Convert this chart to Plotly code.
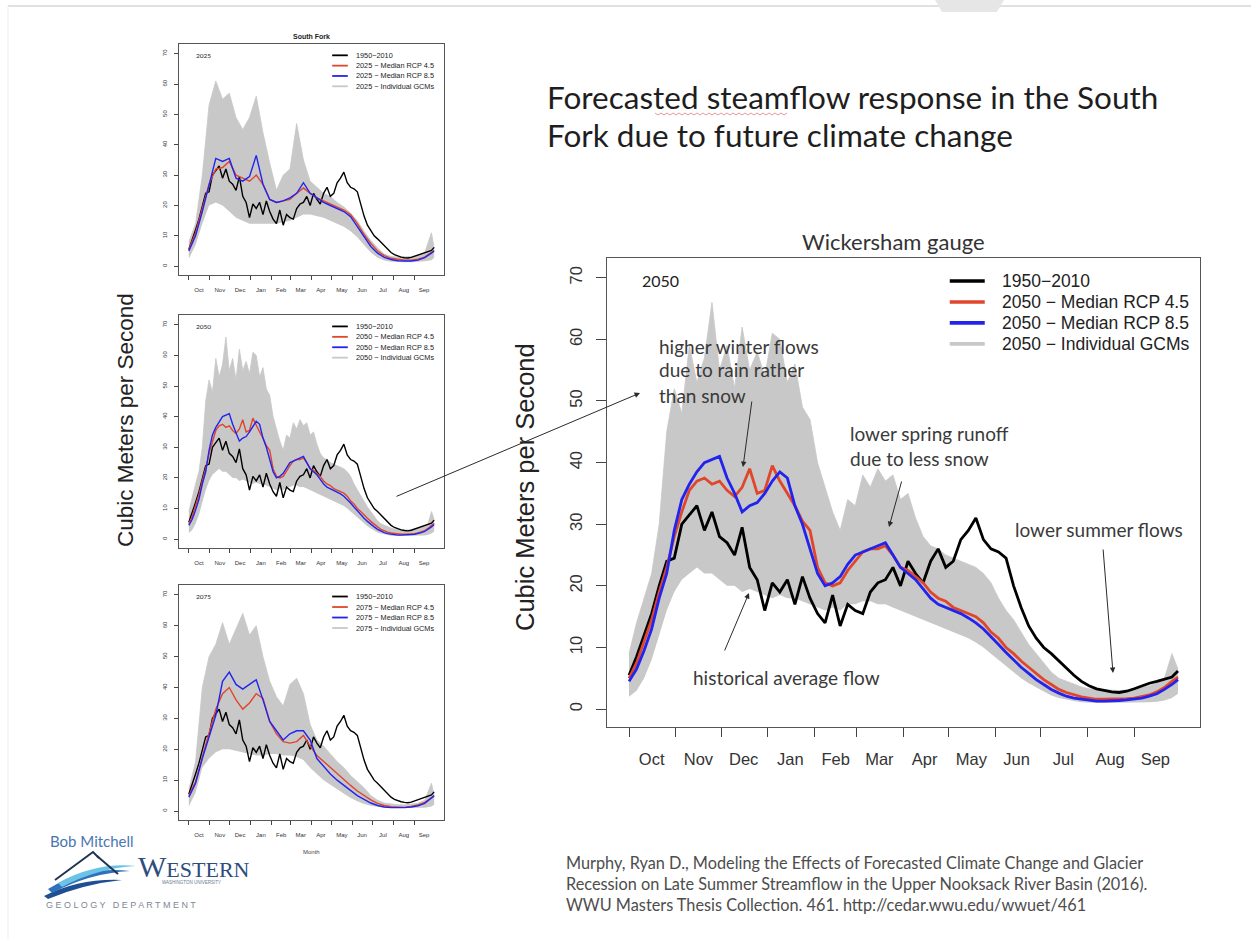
import plotly.graph_objects as go

W, H = 1251, 939

# ---------------------------------------------------------------- axes
months = ["Oct", "Nov", "Dec", "Jan", "Feb", "Mar", "Apr", "May", "Jun", "Jul", "Aug", "Sep"]
month_start = [1, 32, 62, 93, 124, 152, 183, 213, 244, 274, 305, 336]
month_mid = [16, 47, 77, 108, 138, 167, 197, 228, 258, 289, 320, 350]
flow_ticks = [0, 10, 20, 30, 40, 50, 60, 70]

# water-year day grids
day5 = list(range(1, 362, 5)) + [365]
day10 = list(range(1, 362, 10)) + [365]

# ---------------------------------------------------------------- flows (m3/s)
hist_1950_2010 = [5.5, 8.5, 12, 15.5, 20, 24, 24.5, 30, 31.5, 33,
                  29, 32, 28, 27, 25, 29.5, 23, 21, 16, 20.5,
                  19, 21, 17, 21.5, 18, 15.5, 14, 18.5, 13.5, 17,
                  16, 15.5, 19, 20.5, 21, 23, 20, 24, 22, 20.5,
                  24, 26, 23, 24, 27.5, 29, 31, 27.5, 26, 25.5,
                  24.5, 20, 16.5, 13.5, 11.5, 10, 9, 7.8, 6.6, 5.5,
                  4.5, 3.8, 3.3, 3, 2.8, 2.7, 2.9, 3.3, 3.8, 4.2,
                  4.5, 4.8, 5.2, 6.2]

rcp45_2050 = [5, 7.5, 11, 14.5, 19, 23, 28, 32, 35.5, 37,
              37.5, 36.5, 37, 35.5, 34.5, 36, 39, 35, 35.5, 39.5,
              37, 35, 33, 30.5, 29, 23, 20.5, 20, 20.5, 22.5,
              24, 25.5, 26, 26, 26.5, 25, 23, 22.5, 21.5, 20.5,
              19, 18, 17.5, 16.5, 16, 15.5, 15, 14, 12.5, 11.5,
              10, 9, 7.8, 6.8, 5.8, 4.8, 4, 3.2, 2.7, 2.3,
              2, 1.8, 1.6, 1.6, 1.6, 1.6, 1.7, 1.8, 2, 2.3,
              2.8, 3.5, 4.5, 5.2]
rcp85_2050 = [4.5, 6.5, 9.5, 13, 18, 22, 29, 34, 36.5, 38.5,
              40, 40.5, 41, 37.5, 35, 32, 33, 33.5, 35, 37,
              38.5, 37.5, 33, 30, 26, 22, 20, 20.5, 21.5, 23.5,
              25, 25.5, 26, 26.5, 27, 25, 23, 22, 21, 19.5,
              18, 17, 16.5, 16, 15.5, 14.8, 14, 13, 11.8, 10.5,
              9.2, 8, 6.8, 5.8, 4.8, 4, 3.2, 2.6, 2.1, 1.8,
              1.6, 1.4, 1.3, 1.3, 1.3, 1.4, 1.5, 1.6, 1.8, 2.1,
              2.5, 3.2, 4, 4.8]
gcm_high_2050 = [9, 14, 18, 22, 30, 45, 52, 48, 59, 53,
                 57, 66, 55, 59, 52, 62, 55, 58, 54, 61,
                 60, 53, 56, 49, 47, 40, 36, 32, 29, 34,
                 33, 38, 36, 39, 37, 38, 34, 35, 31, 28,
                 26.5, 26, 25, 24.5, 24, 23.5, 23, 22, 20.5, 18,
                 16, 14.5, 12.5, 10.5, 9, 7.5, 6, 5, 4.5, 4,
                 3.6, 3.3, 3.2, 3.1, 3, 3, 3.1, 3.3, 3.5, 3.8,
                 4.2, 5, 9, 6.5]
gcm_low_2050 = [2, 3, 5, 8, 12, 16, 19, 21, 22, 23,
                22, 22, 21, 20, 20, 19, 19.5, 19, 18.5, 18,
                18.5, 18, 18, 17.5, 17, 16.5, 16, 16.5, 16, 17,
                17, 17.5, 17.5, 17, 17, 16.5, 16, 15.5, 15, 14.5,
                14, 13.5, 13, 12.5, 12, 11.5, 10.8, 10, 9, 8,
                7, 6, 5, 4.2, 3.5, 2.8, 2.2, 1.8, 1.5, 1.3,
                1.1, 1, 1, 1, 1, 1, 1, 1, 1, 1.1,
                1.2, 1.4, 1.8, 2.5]

rcp45_2025 = [5.5, 11, 19, 27, 32, 32.5, 34.5, 30, 29, 28,
              30, 27, 22, 21, 21.5, 22, 24, 25.8, 24, 22.5,
              21.5, 20.5, 19.5, 18.5, 17, 14, 10.5, 7.5, 5, 3.5,
              2.6, 2.2, 2, 2, 2.3, 3, 4.5, 5.2]
rcp85_2025 = [5, 10, 18, 26.5, 35.5, 34.5, 35.5, 29, 28, 29.5,
              36.5, 27, 22, 21, 21.5, 22.5, 24, 27.5, 24, 22.5,
              21, 20, 19, 18, 16.3, 13, 9.5, 6.5, 4.3, 2.9,
              2.2, 1.8, 1.7, 1.7, 2, 2.8, 4.3, 5]
gcm_high_2025 = [8, 14, 30, 53, 61, 55, 57, 49, 45, 49,
                 56, 44, 34, 25, 30, 32, 47, 35, 28, 26,
                 24, 23, 21, 19.5, 17.5, 15, 11.5, 8.5, 6, 4,
                 3.2, 3, 3, 3.2, 3.6, 4.5, 11, 6]
gcm_low_2025 = [2.5, 7, 14, 20, 21, 20, 18, 16, 15, 14,
                14, 14, 14, 14, 14.5, 15, 16, 17, 17, 16.5,
                16, 15, 14, 13, 11.5, 9.5, 7, 4.5, 2.8, 1.9,
                1.5, 1.3, 1.3, 1.3, 1.4, 1.6, 2, 2.8]

rcp45_2075 = [5, 9.5, 17.5, 25, 33, 38, 40, 36, 33, 35,
              38, 36.5, 29, 25, 22.5, 22, 22.5, 24.5, 21, 18,
              16, 14, 12, 10, 8.3, 6.5, 5, 3.6, 2.5, 1.8,
              1.4, 1.2, 1.2, 1.5, 2, 2.8, 4.2, 4.8]
rcp85_2075 = [4.5, 9, 17, 24, 31, 42, 45, 41, 39.5, 41,
              42.5, 36, 29, 26, 23, 25, 26, 26, 23, 17,
              14.5, 12, 10, 8.3, 6.5, 5, 3.8, 2.6, 1.8, 1.3,
              1.1, 1, 1.1, 1.3, 1.7, 2.5, 4.3, 5]
gcm_high_2075 = [7, 16, 40, 50, 54, 61, 54, 59, 64, 57,
                 60, 50, 42, 37, 34, 41, 43, 38, 28, 23,
                 21, 18.5, 16, 14, 11.5, 9.5, 7.5, 5, 3.5, 2.6,
                 2.2, 2, 2, 2.2, 2.5, 3.5, 9, 5]
gcm_low_2075 = [1.5, 6, 14, 17, 19, 20, 20, 19.5, 19, 18.5,
                18, 18, 18.5, 18.5, 18, 18, 17.5, 16.5, 14, 12,
                10, 8.5, 7, 5.5, 4.2, 3.2, 2.3, 1.7, 1.3, 1.1,
                1, 1, 1, 1, 1, 1.1, 1.5, 2]

COL_HIST = "#000000"
COL_45 = "#e0462c"
COL_85 = "#2323ee"
COL_GCM = "#c8c8c8"
X_RANGE = [-13.6, 379.6]
Y_RANGE = [-2.9, 73.2]


def px(x):
    return x / W


def py(y):
    return 1 - y / H


def P(x, y):
    return dict(x=px(x), y=py(y), xref="paper", yref="paper")


panels = [
    dict(ax="", box=(607, 258, 1200, 727), year="2050", day=day5,
         r45=rcp45_2050, r85=rcp85_2050, lo=gcm_low_2050, hi=gcm_high_2050,
         hday=day5, big=True),
    dict(ax="2", box=(179, 44, 444, 275), year="2025", day=day10,
         r45=rcp45_2025, r85=rcp85_2025, lo=gcm_low_2025, hi=gcm_high_2025,
         hday=day5, big=False),
    dict(ax="3", box=(179, 315, 444, 548), year="2050", day=day5,
         r45=rcp45_2050, r85=rcp85_2050, lo=gcm_low_2050, hi=gcm_high_2050,
         hday=day5, big=False),
    dict(ax="4", box=(179, 585, 444, 820), year="2075", day=day10,
         r45=rcp45_2075, r85=rcp85_2075, lo=gcm_low_2075, hi=gcm_high_2075,
         hday=day5, big=False),
]

fig = go.Figure()
annotations = []
shapes = []
layout_axes = {}

for p in panels:
    a = p["ax"]
    xr, yr = "x" + a, "y" + a
    big = p["big"]
    lw = 2.8 if big else 1.4
    common = dict(xaxis=xr, yaxis=yr, mode="lines", hoverinfo="skip", showlegend=False)
    # envelope of the individual GCM runs
    fig.add_trace(go.Scatter(x=p["day"], y=p["lo"], line=dict(width=0, color=COL_GCM), **common))
    fig.add_trace(go.Scatter(x=p["day"], y=p["hi"], fill="tonexty", fillcolor=COL_GCM,
                             line=dict(width=0.8, color=COL_GCM), **common))
    fig.add_trace(go.Scatter(x=p["hday"], y=hist_1950_2010, line=dict(width=lw, color=COL_HIST), **common))
    fig.add_trace(go.Scatter(x=p["day"], y=p["r45"], line=dict(width=lw, color=COL_45), **common))
    fig.add_trace(go.Scatter(x=p["day"], y=p["r85"], line=dict(width=lw, color=COL_85), **common))

    l, t, r, b = p["box"]
    tick_fs = 16.5 if big else 6
    layout_axes["xaxis" + a] = dict(
        domain=[px(l), px(r)], anchor=yr, range=X_RANGE,
        tickmode="array", tickvals=month_mid, ticktext=months, ticks="",
        minor=dict(tickmode="array", tickvals=month_start, ticks="outside",
                   ticklen=9 if big else 4, tickcolor="#444", tickwidth=1, showgrid=False),
        ticklabelstandoff=17 if big else 9,
        showline=True, mirror=True, linecolor="#555", linewidth=1.4 if big else 0.8,
        showgrid=False, zeroline=False,
        tickfont=dict(family="Liberation Sans", size=tick_fs, color="#333"),
    )
    layout_axes["yaxis" + a] = dict(
        domain=[py(b), py(t)], anchor=xr, range=Y_RANGE,
        tickmode="array", tickvals=flow_ticks, ticks="outside",
        ticklen=10 if big else 4, tickcolor="#444", tickangle=-90,
        ticklabelstandoff=7 if big else 5,
        showline=True, mirror=True, linecolor="#555", linewidth=1.4 if big else 0.8,
        showgrid=False, zeroline=False,
        tickfont=dict(family="Liberation Sans", size=tick_fs, color="#333"),
    )

    # legend block inside the plot box
    labels = ["1950\u22122010",
              f"{p['year']} \u2212 Median RCP 4.5",
              f"{p['year']} \u2212 Median RCP 8.5",
              f"{p['year']} \u2212 Individual GCMs"]
    colors = [COL_HIST, COL_45, COL_85, COL_GCM]
    lg_fs = 17.5 if big else 7.3
    for k, (lab, col) in enumerate(zip(labels, colors)):
        ry = 1 - (0.049 + 0.0447 * k)
        shapes.append(dict(type="line", xref=f"x{a} domain", yref=f"y{a} domain",
                           x0=0.578, x1=0.637, y0=ry, y1=ry,
                           line=dict(color=col, width=3.6 if big else 1.8)))
        annotations.append(dict(text=lab, xref=f"x{a} domain", yref=f"y{a} domain",
                                x=0.662, y=ry, xanchor="left", yanchor="middle", showarrow=False,
                                font=dict(family="Liberation Sans", size=lg_fs, color="#222")))
    annotations.append(dict(text=p["year"], xref=f"x{a} domain", yref=f"y{a} domain",
                            x=0.055, y=0.951, xanchor="left", yanchor="middle", showarrow=False,
                            font=dict(family="Lato", size=16 if big else 6.5, color="#222")))

# ---------------------------------------------------------------- text
def text(s, x, y, size, color="#222", family="Lato", anchor="left", **kw):
    annotations.append(dict(text=s, **P(x, y), xanchor=anchor, yanchor="middle",
                            showarrow=False, font=dict(family=family, size=size, color=color), **kw))


text("Forecasted steamflow response in the South", 545, 97, 31.5, "#1e1e1e")
text("Fork due to future climate change", 545, 135, 31.5, "#1e1e1e")
text("Wickersham gauge", 893, 241, 22, "#333", anchor="center")
text("<b>South Fork</b>", 311, 37, 7, "#222", family="Liberation Sans", anchor="center")
text("Month", 311, 852, 6, "#444", family="Liberation Sans", anchor="center")
text("Cubic Meters per Second", 125, 420, 22.5, "#222", family="Liberation Sans",
     anchor="center", textangle=-90)
text("Cubic Meters per Second", 525, 487, 25.5, "#222", family="Liberation Sans",
     anchor="center", textangle=-90)

note_fs = 19
note_col = "#3a3a3a"
text("higher winter flows", 657, 346, note_fs, note_col)
text("due to rain rather", 657, 370, note_fs, note_col)
text("than snow", 657, 395, note_fs, note_col)
text("lower spring runoff", 848, 433, note_fs, note_col)
text("due to less snow", 848, 458, note_fs, note_col)
text("lower summer flows", 1013, 529, note_fs, note_col)
text("historical average flow", 691, 677, note_fs, note_col)

cite_col = "#4d4d4d"
cite_fs = 16.3
text("Murphy, Ryan D., Modeling the Effects of Forecasted Climate Change and Glacier", 564, 862, cite_fs, cite_col)
text("Recession on Late Summer Streamflow in the Upper Nooksack River Basin (2016).", 564, 883, cite_fs, cite_col)
text("WWU Masters Thesis Collection. 461. http://cedar.wwu.edu/wwuet/461", 564, 904, cite_fs, cite_col)

# logo block
text("Bob Mitchell", 48, 841, 15, "#4a76b3")
text("<span style='font-size:30px'>W</span>ESTERN", 136, 866, 22, "#2c4d7d",
     family="Liberation Serif")
text("WASHINGTON UNIVERSITY", 160, 882, 4.5, "#6a7a92", family="Liberation Sans")
text("G E O L O G Y &nbsp; D E P A R T M E N T", 44, 905, 9, "#7e8792", family="Liberation Sans")

# ---------------------------------------------------------------- arrows
def arrow(tip, tail):
    annotations.append(dict(text="", **P(*tip), ax=tail[0] - tip[0], ay=tail[1] - tip[1],
                            showarrow=True, arrowhead=2, arrowsize=1.1, arrowwidth=1,
                            arrowcolor="#2a2a2a"))


arrow((640, 393), (395, 497))
arrow((743, 467), (752, 400))
arrow((889, 527), (902, 480))
arrow((1113, 673), (1103, 548))
arrow((749, 593), (724, 652))

# ---------------------------------------------------------------- decoration
def ppath(points, close=False):
    parts = []
    for i, (x, y) in enumerate(points):
        parts.append(("M" if i == 0 else "L") + f"{px(x):.5f},{py(y):.5f}")
    return " ".join(parts) + (" Z" if close else "")


def qpath(start, segs, close=True):
    s = f"M{px(start[0]):.5f},{py(start[1]):.5f}"
    for (cx, cy, ex, ey) in segs:
        s += f" Q{px(cx):.5f},{py(cy):.5f} {px(ex):.5f},{py(ey):.5f}"
    return s + (" Z" if close else "")


# spell-check squiggle under "steamflow"
squiggle = [(655 + 3 * i, 113 + (i % 2) * 2) for i in range(45)]
shapes.append(dict(type="path", xref="paper", yref="paper", path=ppath(squiggle),
                   line=dict(color="#e59a9a", width=1)))

# slide frame and tab
shapes.append(dict(type="line", xref="paper", yref="paper", x0=px(8), x1=1, y0=py(6), y1=py(6),
                   line=dict(color="#d6d6d6", width=1.5)))
shapes.append(dict(type="line", xref="paper", yref="paper", x0=px(8), x1=px(8), y0=py(6), y1=0,
                   line=dict(color="#ececec", width=1)))
shapes.append(dict(type="path", xref="paper", yref="paper",
                   path=ppath([(935, 0), (1004, 0), (997, 12), (942, 12)], close=True),
                   fillcolor="#e6e6e6", line=dict(width=0)))

# logo: mountain and waves
shapes.append(dict(type="path", xref="paper", yref="paper",
                   path=qpath((44, 896), [(80, 878, 122, 880), (84, 884, 48, 899)]),
                   fillcolor="#1f4f93", line=dict(width=0)))
shapes.append(dict(type="path", xref="paper", yref="paper",
                   path=qpath((48, 889), [(86, 866, 130, 871), (90, 873, 52, 893)]),
                   fillcolor="#2f72bb", line=dict(width=0)))
shapes.append(dict(type="path", xref="paper", yref="paper",
                   path=qpath((58, 883), [(96, 862, 136, 866), (98, 868, 62, 887)]),
                   fillcolor="#6cc3e6", line=dict(width=0)))
shapes.append(dict(type="path", xref="paper", yref="paper",
                   path=ppath([(55, 880), (93, 852), (99, 858)]),
                   line=dict(color="#1f3553", width=2)))
shapes.append(dict(type="path", xref="paper", yref="paper",
                   path=ppath([(97, 856), (118, 874)]),
                   line=dict(color="#1f3553", width=2)))

fig.update_layout(
    width=W, height=H, autosize=False,
    margin=dict(l=0, r=0, t=0, b=0),
    paper_bgcolor="white", plot_bgcolor="white",
    showlegend=False,
    font=dict(family="Liberation Sans", color="#222"),
    annotations=annotations, shapes=shapes,
    **layout_axes,
)

fig.write_html("out.html")
